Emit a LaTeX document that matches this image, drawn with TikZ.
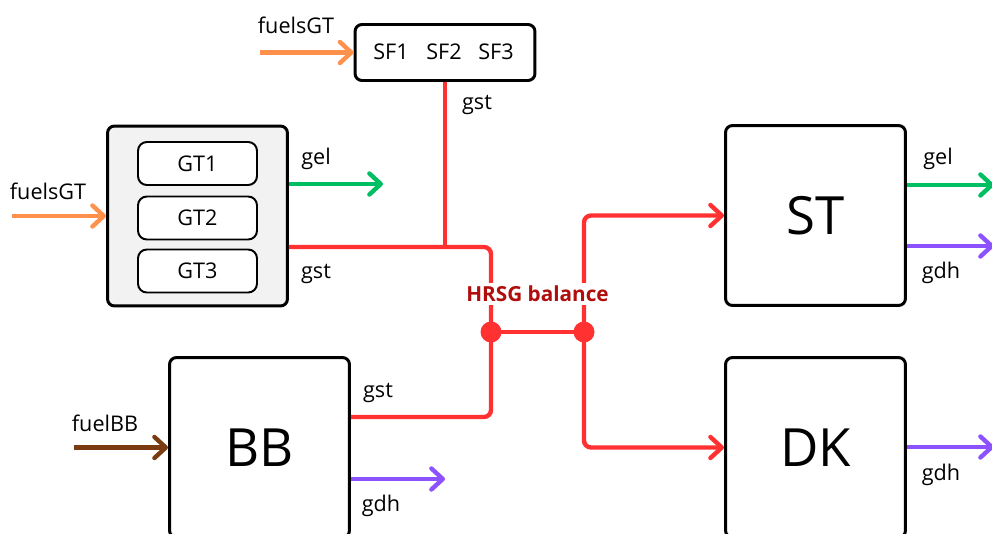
\documentclass[tikz,border=0pt]{standalone}
\usepackage{fontspec}
\setmainfont{Open Sans}
\usetikzlibrary{arrows.meta}

\definecolor{fuelorange}{HTML}{FF914D}
\definecolor{fuelbrown}{HTML}{7A3B10}
\definecolor{elgreen}{HTML}{00BF63}
\definecolor{heatpurple}{HTML}{8C52FF}
\definecolor{steamred}{HTML}{FF3131}
\definecolor{balancered}{HTML}{B00D0D}

\tikzset{
  unit/.style={draw, line width=1.7pt, rounded corners=4pt, inner sep=0pt,
    minimum width=3.6cm, minimum height=3.6cm, font=\fontsize{30}{34}\selectfont},
  gtunit/.style={draw, fill=white, line width=1.1pt, rounded corners=5pt,
    minimum width=2.38cm, minimum height=0.86cm, font=\fontsize{12.3}{15}\selectfont},
  lbl/.style={inner sep=1pt, font=\fontsize{12.3}{15}\selectfont},
  flow/.style={line width=2.5pt, -{Straight Barb[length=6.5pt,width=12pt,round]}},
  steam/.style={line width=2.5pt, draw=steamred, rounded corners=4pt},
  joint/.style={circle, fill=steamred, inner sep=0pt, minimum size=0.42cm},
}

\begin{document}
\begin{tikzpicture}[x=0.02cm, y=-0.02cm]
  \useasboundingbox (0,0) rectangle (992,534);
  \clip (0,0) rectangle (992,534);

  % supplementary firing
  \node[unit, minimum height=1.12cm] (sf) at (445,52.5) {};
  \node[lbl] (sf1) at (391,52) {SF1};
  \node[lbl] (sf2) at (444,52) {SF2};
  \node[lbl] (sf3) at (496,52) {SF3};
  \coordinate (fuelsf) at (260,52.5);
  \draw[flow, fuelorange] (fuelsf) -- (fuelsf -| sf.west);
  \node[lbl] (fuelsflbl) at (296,25) {fuelsGT};

  % gas turbines
  \node[unit, fill=black!5] (gt) at (197.5,216) {};
  \node[gtunit] (gt1) at (197.5,163.5) {GT1};
  \node[gtunit] (gt2) at (197.5,218) {GT2};
  \node[gtunit] (gt3) at (197.5,271) {GT3};
  \coordinate (fuelgt) at (12,216);
  \draw[flow, fuelorange] (fuelgt) -- (fuelgt -| gt.west);
  \node[lbl] (fuelgtlbl) at (48,191) {fuelsGT};
  \coordinate (gtgel) at (383,184);
  \draw[flow, elgreen] (gtgel -| gt.east) -- (gtgel);
  \node[lbl] (gtgellbl) at (316,159) {gel};
  \node[lbl] (gtgstlbl) at (316,274) {gst};

  % back-up boiler
  \node[unit] (bb) at (259.5,447.5) {BB};
  \coordinate (fuelbb) at (74,447.5);
  \draw[flow, fuelbrown] (fuelbb) -- (fuelbb -| bb.west);
  \node[lbl] (fuelbblbl) at (105,423) {fuelBB};
  \coordinate (bbgdh) at (445,479);
  \draw[flow, heatpurple] (bbgdh -| bb.east) -- (bbgdh);
  \node[lbl] (bbgstlbl) at (378,393) {gst};
  \node[lbl] (bbgdhlbl) at (381,506) {gdh};

  % steam turbine and district heating condenser
  \node[unit] (st) at (815.5,215.5) {ST};
  \node[unit] (dk) at (815.5,447.5) {DK};
  \coordinate (stgel) at (994,185);
  \coordinate (stgdh) at (994,246);
  \coordinate (dkgdh) at (994,447);
  \draw[flow, elgreen] (stgel -| st.east) -- (stgel);
  \draw[flow, heatpurple] (stgdh -| st.east) -- (stgdh);
  \draw[flow, heatpurple] (dkgdh -| dk.east) -- (dkgdh);
  \node[lbl] (stgellbl) at (938,159) {gel};
  \node[lbl] (stgdhlbl) at (941,273) {gdh};
  \node[lbl] (dkgdhlbl) at (941,475) {gdh};

  % HRSG steam network
  \node[joint] (hrsgin) at (491,332) {};
  \node[joint] (hrsgout) at (584,332) {};
  \coordinate (merge) at (445,247);
  \coordinate (bbst) at (491,417);
  \draw[steam] (sf.south) -- (merge);
  \draw[steam] (gt.east |- merge) -| (hrsgin.center);
  \draw[steam] (bb.east |- bbst) -| (hrsgin.center);
  \draw[steam] (hrsgin.center) -- (hrsgout.center);
  \draw[steam, flow] (hrsgout.center) |- (st.west);
  \draw[steam, flow] (hrsgout.center) |- (dk.west);
  \node[lbl] (sfgstlbl) at (477,105) {gst};
  \node[fill=white, inner sep=2pt, text=balancered,
    font=\fontsize{11.8}{14}\selectfont\bfseries] (hrsg) at (537.5,294) {HRSG balance};
\end{tikzpicture}
\end{document}
